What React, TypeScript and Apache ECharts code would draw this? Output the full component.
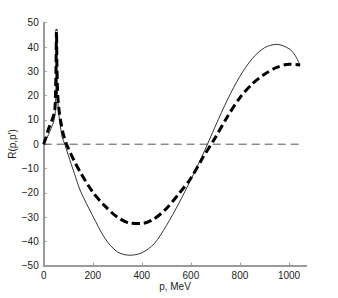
import React, { useEffect, useRef } from "react";
import * as echarts from "echarts";

const solidP = [0, 10, 20, 30, 40, 46, 48, 50, 51, 52, 53, 55, 58, 62, 67, 75, 86, 100, 125, 150, 200, 250, 300, 350, 400, 450, 500, 550, 600, 650, 700, 750, 800, 850, 900, 950, 1000, 1025, 1045];
const solidR = [0, 2, 4, 6.5, 9, 12, 15, 24, 34, 46, 34, 24, 17, 12, 8, 3, 0, -4.5, -12, -19.3, -29.5, -38.8, -44.3, -45.7, -44.7, -41, -33.5, -24.5, -14.5, -4, 7.5, 18.5, 28, 35.2, 39.7, 41.1, 39.3, 36.5, 32.5];

const dashP = [0, 10, 19, 33, 42, 46, 48, 50, 52, 54, 56, 58, 61, 65, 72, 80, 93, 100, 125, 150, 200, 250, 300, 350, 400, 450, 500, 550, 600, 650, 700, 750, 800, 850, 900, 950, 1000, 1045];
const dashR = [0, 3, 6.2, 9.6, 12.5, 15, 20, 30, 46.8, 32, 24, 19, 15.5, 12, 8, 4, 0, -1.6, -7, -11.7, -19.7, -25.5, -30, -32.4, -32.6, -30.7, -26.5, -20.5, -14, -5.3, 2.8, 11.5, 19.2, 24.8, 28.8, 31.6, 32.9, 32.6];

const zeroP = [0, 1045];
const zeroR = [0, 0];

const xTicks = [0, 200, 400, 600, 800, 1000];
const yTicks = [-50, -40, -30, -20, -10, 0, 10, 20, 30, 40, 50];

const FONT = "Liberation Sans";

export default function App() {
  const ref = useRef<HTMLDivElement>(null);
  useEffect(() => {
    if (!ref.current) return;
    const chart = echarts.init(ref.current, undefined, { renderer: "svg" });
    const axisColor = "#9a9a9a";
    chart.setOption({
      animation: false,
      backgroundColor: "#ffffff",
      grid: { left: 43.7, right: 31.8, top: 22.7, bottom: 32.3, containLabel: false },
      xAxis: {
        type: "value",
        min: 0,
        max: 1070,
        splitLine: { show: false },
        axisLine: { show: true, onZero: false, lineStyle: { color: axisColor, width: 2 } },
        axisTick: { show: true, inside: true, length: 3, customValues: xTicks, lineStyle: { color: axisColor, width: 1 } },
        axisLabel: {
          customValues: xTicks,
          color: "#222",
          fontFamily: FONT,
          fontSize: 10,
          margin: 5,
          formatter: (v: number) => String(v),
        },
      },
      yAxis: {
        type: "value",
        min: -50,
        max: 50,
        interval: 10,
        splitLine: { show: false },
        axisLine: { show: true, onZero: false, lineStyle: { color: axisColor, width: 2 } },
        axisTick: { show: true, inside: true, length: 3, customValues: yTicks, lineStyle: { color: axisColor, width: 1 } },
        axisLabel: {
          customValues: yTicks,
          color: "#222",
          fontFamily: FONT,
          fontSize: 10,
          margin: 5,
          formatter: (v: number) => String(v).replace("-", "\u2212"),
        },
      },
      graphic: [
        {
          type: "text",
          x: 12,
          y: 144,
          rotation: Math.PI / 2,
          style: { text: "R(p,p\u2032)", fill: "#222", font: `10px "${FONT}"`, align: "center", verticalAlign: "middle" },
        },
        {
          type: "text",
          x: 175,
          y: 286,
          style: { text: "p, MeV", fill: "#222", font: `10px "${FONT}"`, align: "center", verticalAlign: "middle" },
        },
      ],
      series: [
        {
          type: "line",
          data: zeroP.map((p, i) => [p, zeroR[i]]),
          symbol: "none",
          lineStyle: { color: "#555", width: 1, type: [8, 5] },
          z: 1,
        },
        {
          type: "line",
          data: solidP.map((p, i) => [p, solidR[i]]),
          symbol: "none",
          smooth: 0.3,
          lineStyle: { color: "#333", width: 1 },
          z: 2,
        },
        {
          type: "line",
          data: dashP.map((p, i) => [p, dashR[i]]),
          symbol: "none",
          smooth: 0.3,
          lineStyle: { color: "#000", width: 3, type: [8, 4] },
          z: 3,
        },
      ],
    });
    return () => chart.dispose();
  }, []);
  return <div ref={ref} style={{ position: "fixed", left: 0, top: 0, width: 338, height: 298 }} />;
}
